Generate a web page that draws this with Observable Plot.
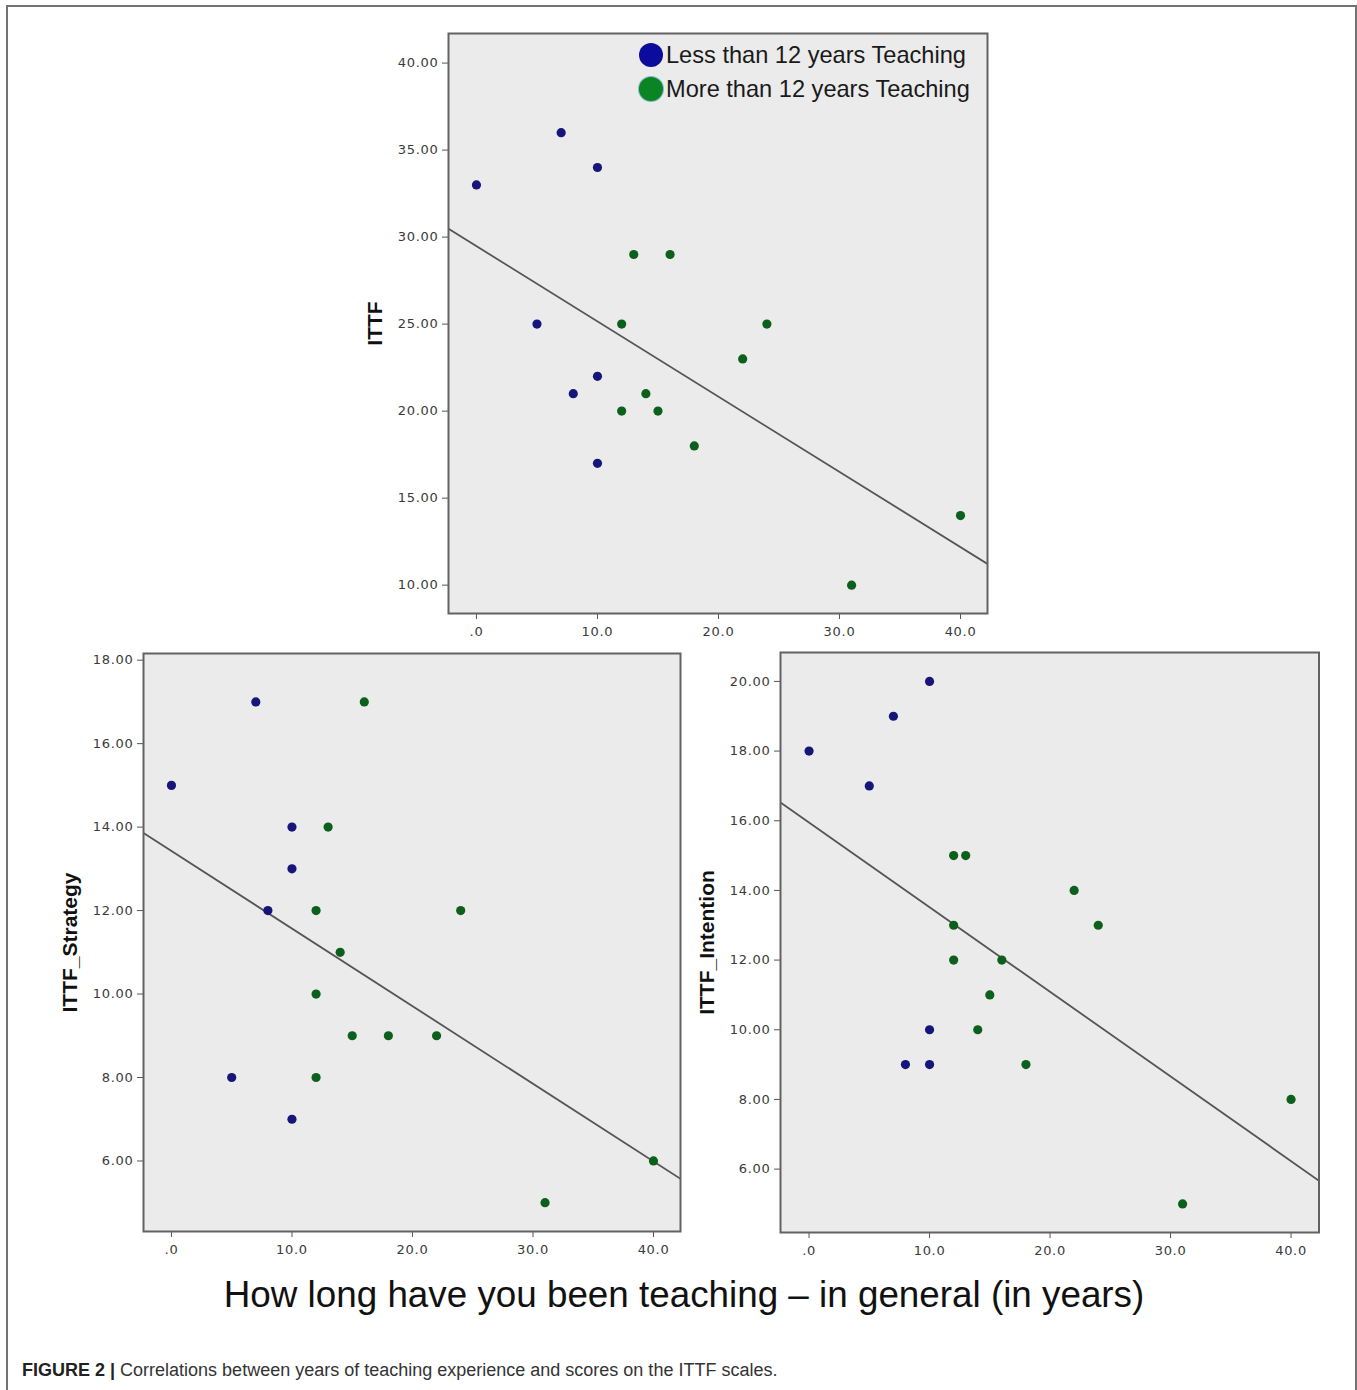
<!DOCTYPE html>
<html><head><meta charset="utf-8">
<script src="https://cdn.jsdelivr.net/npm/d3@7"></script>
<script src="https://cdn.jsdelivr.net/npm/@observablehq/plot@0.6"></script>
<style>
html,body{margin:0;padding:0;background:#fff;}
#root{position:relative;width:1357px;height:1390px;overflow:hidden;font-family:"Liberation Sans",Arial,sans-serif;}
.outer{position:absolute;left:6px;top:5px;width:1347px;height:1420px;border:2px solid #737373;border-bottom:none;}
.panel{position:absolute;}
.panel svg{overflow:visible;}
.panel [aria-label$="tick label"] text{letter-spacing:0.7px;}
.legend{position:absolute;left:638px;font-size:23.6px;color:#1a1a1a;line-height:1;white-space:nowrap;}
.legend .sw{position:absolute;left:0;width:24px;height:24px;border-radius:50%;}
.legend .tx{position:absolute;left:28px;}
.xlabel{position:absolute;left:184px;width:1000px;top:1277px;text-align:center;font-size:36.8px;line-height:1;color:#111;white-space:nowrap;}
.caption{position:absolute;left:22px;top:1361px;font-size:18px;line-height:1;color:#333;white-space:nowrap;}
.caption b{color:#222;}
</style>
</head>
<body>
<div id="root">
  <div class="outer"></div>
</div>
<script>
// ---- data ----
const groupLabels = ["Less than 12 years Teaching", "More than 12 years Teaching"];
const xTicks = [0, 10, 20, 30, 40];

// Panel: ITTF
const ittfYears = [0, 7, 10, 5, 10, 8, 10, 13, 16, 12, 24, 22, 14, 12, 15, 18, 40, 31];
const ittfScore = [33, 36, 34, 25, 22, 21, 17, 29, 29, 25, 25, 23, 21, 20, 20, 18, 14, 10];
const ittfGroup = [0, 0, 0, 0, 0, 0, 0, 1, 1, 1, 1, 1, 1, 1, 1, 1, 1, 1];
const ittfYTicks = [10, 15, 20, 25, 30, 35, 40];
const ittfFit = [29.48, -0.4324]; // intercept, slope

// Panel: ITTF_Strategy
const stratYears = [0, 7, 10, 10, 8, 5, 10, 16, 13, 12, 24, 14, 12, 15, 18, 22, 12, 40, 31];
const stratScore = [15, 17, 14, 13, 12, 8, 7, 17, 14, 12, 12, 11, 10, 9, 9, 9, 8, 6, 5];
const stratGroup = [0, 0, 0, 0, 0, 0, 0, 1, 1, 1, 1, 1, 1, 1, 1, 1, 1, 1, 1];
const stratYTicks = [6, 8, 10, 12, 14, 16, 18];
const stratFit = [13.43, -0.186];

// Panel: ITTF_Intention
const intYears = [0, 7, 10, 5, 10, 8, 10, 12, 13, 22, 24, 12, 12, 16, 15, 14, 18, 40, 31];
const intScore = [18, 19, 20, 17, 10, 9, 9, 15, 15, 14, 13, 13, 12, 12, 11, 10, 9, 8, 5];
const intGroup = [0, 0, 0, 0, 0, 0, 0, 1, 1, 1, 1, 1, 1, 1, 1, 1, 1, 1, 1];
const intYTicks = [6, 8, 10, 12, 14, 16, 18, 20];
const intFit = [15.95, -0.243];

// ---- drawing ----
const root = document.getElementById("root");
const dotColors = ["#16167a", "#0c601c"];
const fmtX = d => d === 0 ? ".0" : d3.format(".1f")(d);
const fmtY = d3.format(".2f");

function panel({years, scores, groups, xDomain, yDomain, yTicks, fit, label, left, top, w, h}) {
  const ml = 110, mr = 12, mt = 12, mb = 40;
  const data = years.map((x, i) => ({x, y: scores[i], g: groupLabels[groups[i]]}));
  const fitLine = xDomain.map(x => ({x, y: fit[0] + fit[1] * x}));
  const chart = Plot.plot({
    width: w + ml + mr, height: h + mt + mb,
    marginLeft: ml, marginRight: mr, marginTop: mt, marginBottom: mb,
    style: {fontFamily: "DejaVu Sans, sans-serif", fontSize: "13px", color: "#3a3a3a", background: "transparent"},
    x: {domain: xDomain},
    y: {domain: yDomain},
    color: {domain: groupLabels, range: dotColors},
    marks: [
      Plot.frame({fill: "#ebebeb"}),
      Plot.axisX({ticks: xTicks, tickFormat: fmtX, tickSize: 6, tickPadding: 7, label: null, stroke: "#555"}),
      Plot.axisY({ticks: yTicks, tickFormat: fmtY, tickSize: 6, tickPadding: 4, label: null, stroke: "#555"}),
      Plot.line(fitLine, {x: "x", y: "y", stroke: "#555", strokeWidth: 1.8, clip: true}),
      Plot.dot(data, {x: "x", y: "y", fill: "g", r: 4.6}),
      Plot.frame({stroke: "#626262", strokeWidth: 2}),
      Plot.text([label], {text: d => d, frameAnchor: "left", dx: -73, rotate: -90, textAnchor: "middle",
        fontSize: 21, fontWeight: "bold", fill: "#111", fontFamily: "Liberation Sans, Arial, sans-serif"})
    ]
  });
  const wrap = document.createElement("div");
  wrap.className = "panel";
  wrap.style.left = (left - ml) + "px";
  wrap.style.top = (top - mt) + "px";
  wrap.appendChild(chart);
  root.appendChild(wrap);
}

panel({years: ittfYears, scores: ittfScore, groups: ittfGroup, xDomain: [-2.31, 42.23], yDomain: [8.37, 41.70],
  yTicks: ittfYTicks, fit: ittfFit, label: "ITTF", left: 448, top: 32.7, w: 539, h: 580});
panel({years: stratYears, scores: stratScore, groups: stratGroup, xDomain: [-2.32, 42.24], yDomain: [4.31, 18.16],
  yTicks: stratYTicks, fit: stratFit, label: "ITTF_Strategy", left: 143, top: 652.7, w: 537, h: 578});
panel({years: intYears, scores: intScore, groups: intGroup, xDomain: [-2.37, 42.32], yDomain: [4.18, 20.83],
  yTicks: intYTicks, fit: intFit, label: "ITTF_Intention", left: 779.5, top: 651.7, w: 538.5, h: 580});

// legend
const legendColors = ["#0b0b9c", "#0b8524"];
groupLabels.forEach((lab, i) => {
  const row = document.createElement("div");
  row.className = "legend";
  row.style.top = (43 + i * 34) + "px";
  const sw = document.createElement("div");
  sw.className = "sw";
  sw.style.background = legendColors[i];
  sw.style.left = "1px";
  if (i === 1) sw.style.boxShadow = "0 0 0 1px #7fb8c8";
  const tx = document.createElement("div");
  tx.className = "tx";
  tx.style.top = "1px";
  tx.textContent = lab;
  row.appendChild(sw); row.appendChild(tx);
  root.appendChild(row);
});

const xl = document.createElement("div");
xl.className = "xlabel";
xl.textContent = "How long have you been teaching \u2013 in general (in years)";
root.appendChild(xl);

const cap = document.createElement("div");
cap.className = "caption";
cap.innerHTML = "<b>FIGURE 2 |</b> Correlations between years of teaching experience and scores on the ITTF scales.";
root.appendChild(cap);
</script>
</body></html>
